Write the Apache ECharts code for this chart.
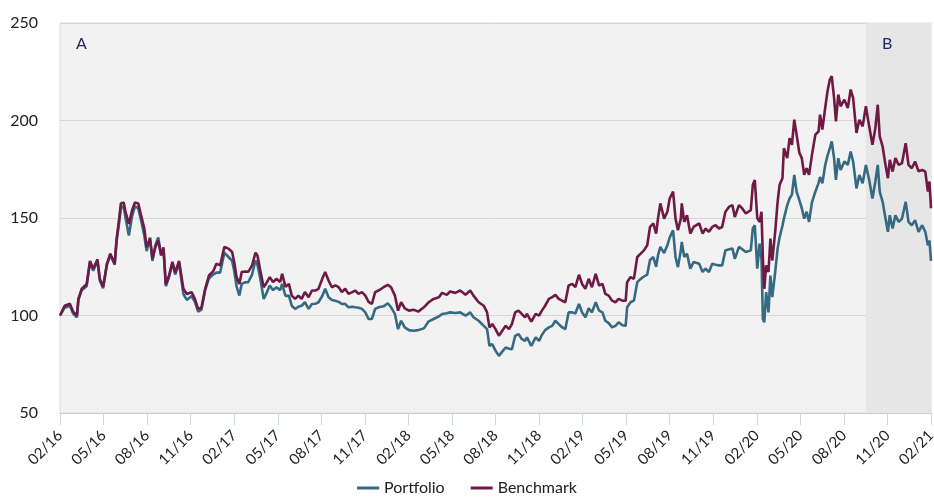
<!DOCTYPE html>
<html><head><meta charset="utf-8">
<script src="https://cdn.jsdelivr.net/npm/echarts@6/dist/echarts.min.js"></script>
<style>html,body{margin:0;padding:0;background:#fff}#c{width:934px;height:501px}</style>
</head><body><div id="c"></div>
<script>
const dates = [
 '2016-02-29','2016-03-10','2016-03-21','2016-03-28','2016-04-05','2016-04-08','2016-04-15','2016-04-25','2016-05-02','2016-05-09','2016-05-18','2016-05-23','2016-05-30','2016-06-07','2016-06-14','2016-06-23','2016-06-27','2016-07-02','2016-07-06','2016-07-12','2016-07-16','2016-07-23','2016-07-30','2016-08-05','2016-08-12','2016-08-18','2016-08-25','2016-08-30','2016-09-06','2016-09-11','2016-09-17','2016-09-23','2016-09-29','2016-10-04','2016-10-09','2016-10-16','2016-10-23','2016-10-29','2016-11-06','2016-11-15','2016-11-22','2016-12-02','2016-12-09','2016-12-16','2016-12-23','2016-12-31',
 '2017-01-08','2017-01-17','2017-01-24','2017-02-01','2017-02-09','2017-02-17','2017-02-24','2017-02-28','2017-03-05','2017-03-11','2017-03-16','2017-03-23','2017-03-30','2017-04-07','2017-04-14','2017-04-18','2017-04-24','2017-05-01','2017-05-08','2017-05-14','2017-05-21','2017-05-28','2017-06-05','2017-06-09','2017-06-16','2017-06-23','2017-06-29','2017-07-06','2017-07-13','2017-07-20','2017-07-27','2017-08-04','2017-08-11','2017-08-18','2017-08-25','2017-09-02','2017-09-08','2017-09-15','2017-09-22','2017-09-29','2017-10-06','2017-10-13','2017-10-20','2017-10-27','2017-11-04','2017-11-10','2017-11-17','2017-11-24','2017-12-01','2017-12-08','2017-12-15','2017-12-22','2017-12-29',
 '2018-01-09','2018-01-18','2018-01-25','2018-02-02','2018-02-08','2018-02-14','2018-02-21','2018-03-01','2018-03-11','2018-03-21','2018-04-02','2018-04-12','2018-04-22','2018-05-03','2018-05-10','2018-05-20','2018-05-27','2018-06-07','2018-06-17','2018-06-28','2018-07-08','2018-07-15','2018-07-26','2018-08-06','2018-08-13','2018-08-18','2018-08-24','2018-08-31','2018-09-07','2018-09-14','2018-09-21','2018-09-28','2018-10-04','2018-10-11','2018-10-18','2018-10-25','2018-11-01','2018-11-05','2018-11-14','2018-11-23','2018-11-30','2018-12-06','2018-12-13','2018-12-21','2018-12-28',
 '2019-01-04','2019-01-11','2019-01-18','2019-01-25','2019-02-01','2019-02-08','2019-02-14','2019-02-21','2019-02-27','2019-03-06','2019-03-13','2019-03-20','2019-03-28','2019-04-04','2019-04-11','2019-04-17','2019-04-24','2019-05-01','2019-05-08','2019-05-15','2019-05-23','2019-05-30','2019-06-02','2019-06-09','2019-06-16','2019-06-23','2019-06-30','2019-07-07','2019-07-14','2019-07-20','2019-07-27','2019-08-02','2019-08-06','2019-08-11','2019-08-19','2019-08-26','2019-08-31','2019-09-07','2019-09-12','2019-09-17','2019-09-23','2019-09-25','2019-09-30','2019-10-06','2019-10-13','2019-10-20','2019-11-01','2019-11-08','2019-11-14','2019-11-21','2019-11-28','2019-12-05','2019-12-12','2019-12-19','2019-12-26',
 '2020-01-03','2020-01-10','2020-01-15','2020-01-24','2020-01-31','2020-02-07','2020-02-17','2020-02-21','2020-02-25','2020-03-01','2020-03-06','2020-03-10','2020-03-13','2020-03-16','2020-03-20','2020-03-25','2020-03-29','2020-04-02','2020-04-08','2020-04-13','2020-04-17','2020-04-23','2020-04-26','2020-05-03','2020-05-08','2020-05-13','2020-05-18','2020-05-23','2020-05-29','2020-06-03','2020-06-08','2020-06-13','2020-06-18','2020-06-24','2020-07-01','2020-07-08','2020-07-11','2020-07-16','2020-07-22','2020-07-27','2020-08-01','2020-08-05','2020-08-10','2020-08-14','2020-08-19','2020-08-24','2020-09-01','2020-09-08','2020-09-14','2020-09-19','2020-09-26','2020-10-02','2020-10-09','2020-10-16','2020-10-23','2020-10-30','2020-11-05','2020-11-10','2020-11-14','2020-11-20','2020-11-26','2020-12-01','2020-12-05','2020-12-11','2020-12-17','2020-12-24','2020-12-31',
 '2021-01-08','2021-01-14','2021-01-21','2021-01-28','2021-02-04','2021-02-11','2021-02-17','2021-02-22','2021-02-25','2021-02-28'
];
const portfolio = [
 100,104,105,101,99,108,113,115,127,123,128,118,114,126,131,126,138,147,155,156,150,141,151,156,155,149,141,133,140,128,136,140,131,134,115,120,127,121,127,111,108,110,107,102,103,113,
 119,121,122,122,132.2,130,128,123,115,110.2,116.2,117,117.1,121,128.2,126,118.8,108.5,112,115.4,113,114.5,113,116.2,110,110.2,105,103.4,104.5,105,106.8,103.4,105.9,106,106.8,110,113.7,109.4,108,107.6,107,105.9,106,104.2,104.5,104.2,104,103.4,101.6,98.2,98.2,103.4,104.2,
 104.7,106.3,104.2,100.8,93,97.3,93.9,92.5,92.2,92.5,93.4,97,98.2,99.5,100.8,101.2,101.6,101.3,101.6,99.9,101.6,99.1,97.3,94.7,93,84.4,85.3,82,79.3,81.5,83.6,83,82.7,89.6,90.5,88,87,88.8,84.4,88.8,87,90,92.5,93.9,94.7,
 97.3,95.6,94,93,101.6,101.6,101,105.9,101.6,99.1,103.7,101.6,106.8,102.5,101.6,97.3,96.1,93.9,94.7,96.5,95,94.7,104.2,106.8,107.6,117.1,118.8,120,121,128.5,130,125,130.8,135.2,132,136,140,143.7,130,124.8,133.4,137.7,130,131.7,124,127.4,126.5,122.3,124,122.3,126.5,126,125.7,125.7,133.4,
 134,134.3,129.1,135.2,134,132.6,133.4,144.6,146.3,124,136.9,129.1,98.2,96.5,112,101.6,120.5,109.4,122.3,134.3,140,146,149.7,156.6,160,162,172.1,163.5,159,155,149.7,153.2,148,158,163.5,168,171,167.8,177,182,185.8,189.3,180.7,169.5,180.7,174.6,179,177.2,184.1,179,165.2,172.1,167.8,177.2,169.5,160,168.7,177.2,163.5,158.3,149.7,142.9,151.4,144.6,151.4,148,149.7,
 158.3,148,146.3,148.9,142.9,146.3,142.9,136,138.5,128
];
const benchmark = [
 100,105,106,102,100,108.5,113.7,116,128,124,128.8,118.8,114.7,126.5,131.7,126.5,139.4,148.9,157.5,158,153,147,154,158,157.5,151.5,144.6,135,139.4,129,135,138.5,130.8,135,116,120.5,127.5,122,128,113.7,111,112,108.5,103.4,104,113.7,
 120.5,122.6,126.5,125.7,135.2,134.3,132.6,127.4,119.7,116.2,122.3,122.6,122.4,125.7,132.2,130.8,123,114.5,117.1,119.7,117.1,118.8,117.2,121.4,114.7,116.2,110.2,108.5,110.2,108.5,112,109.4,112.8,112.8,113.7,118.8,122.3,117.9,114.5,115.4,114.5,112,113.7,111.1,112,112.8,111.1,112,110.2,107,105.9,112,112.8,
 114.5,115.7,114.5,110.2,102.5,106.8,103.7,102.5,103,102,104.2,106.8,108.5,109.4,111.6,110.6,112.3,111.6,112.8,110.6,112.8,110.2,106.8,105,101.6,93.9,95.6,93,89.6,92.2,94.7,93,95.6,101.6,102.5,100.8,99.1,100.8,96.8,100.8,99.9,102.5,105,108.5,109.4,
 110.6,108.5,107.6,106.8,115.4,116.2,114.5,120.9,116.2,113.7,118.8,114.5,121.4,115.4,116.2,111.1,110.2,107.6,106.8,108.5,107.6,107.6,117.1,119.7,118.8,130,131.7,133.4,136,145.4,147.2,142,149.7,157.5,149.7,153.2,160,163.5,149.7,143.7,149.7,157.5,148,151.4,142,145.4,147.2,142,144.6,142.9,145.4,146.3,144.6,145.4,153.2,
 155.8,156.6,150.5,156.6,154.9,152.3,154,166.9,169.5,150,148,153.2,129.1,113.7,125.7,122.3,139.4,128.2,142.9,158.3,166.9,170.4,185.8,180.7,191,187.5,200.4,192.7,183.3,180.7,172.1,175.5,172.1,182.4,192.7,194.4,203,195.3,206.4,215,221,222.7,211.6,199.6,213.3,207.3,210.7,206.4,215.9,211.6,193.6,200.4,197,207.3,197,187.5,196.1,208.1,191.9,186.7,177.2,170.4,179.8,173.8,180.7,177.2,178.1,
 188.4,177.2,175.5,179,174,174.6,173.8,163.5,168.7,155
];
const tickLabels = ['02/16','05/16','08/16','11/16','02/17','05/17','08/17','11/17','02/18','05/18','08/18','11/18','02/19','05/19','08/19','11/19','02/20','05/20','08/20','11/20','02/21'];
const regionA = {label: 'A', start: '2016-02-29', end: '2020-10-16'};
const regionB = {label: 'B', start: '2020-10-16', end: '2021-02-28'};

// month index: 0 = end of Feb 2016 (tick "02/16"), 60 = end of Feb 2021
function monthIndex(s) {
  const p = s.split('-').map(Number);
  const dim = new Date(Date.UTC(p[0], p[1], 0)).getUTCDate();
  return (p[0] - 2016) * 12 + (p[1] - 3) + p[2] / dim;
}

const FONT = 'Lato, "Open Sans", sans-serif';
const regionLabel = (txt) => ({show: true, formatter: txt, position: [16, 13], color: '#1b2a5c', fontSize: 16, fontFamily: FONT});
const chart = echarts.init(document.getElementById('c'), null, {renderer: 'canvas'});
chart.setOption({
  animation: false,
  textStyle: {fontFamily: FONT},
  grid: {left: 60, right: 3, top: 23, bottom: 88, outerBoundsMode: 'none', containLabel: false,
         show: true, backgroundColor: '#f2f2f2', borderColor: '#dcdcdc', borderWidth: 1},
  legend: {
    bottom: 0, left: 'center', icon: 'rect', itemWidth: 22, itemHeight: 3, itemGap: 26,
    textStyle: {fontSize: 16, color: '#222', fontFamily: FONT},
    data: ['Portfolio', 'Benchmark']
  },
  xAxis: {
    type: 'value', min: 0, max: 60, interval: 3,
    axisLine: {show: true, lineStyle: {color: '#cccccc'}},
    axisTick: {show: true, length: 12, lineStyle: {color: '#ccd6eb'}},
    splitLine: {show: false},
    axisLabel: {rotate: 45, fontSize: 15, color: '#222', margin: 20, fontFamily: FONT,
      formatter: v => tickLabels[Math.round(v / 3)] || ''}
  },
  yAxis: {
    type: 'value', min: 50, max: 250, interval: 50,
    axisLine: {show: false}, axisTick: {show: false},
    splitLine: {lineStyle: {color: '#d6d6d6', width: 1}},
    axisLabel: {fontSize: 16, color: '#222', margin: 22, fontFamily: FONT}
  },
  series: [
    {
      name: 'Portfolio', type: 'line', symbol: 'none', showSymbol: false,
      color: '#356a82',
      lineStyle: {width: 2.6, color: '#356a82'},
      data: dates.map((d, i) => [monthIndex(d), portfolio[i]]),
      markArea: {
        silent: true,
        data: [
          [{xAxis: monthIndex(regionA.start), itemStyle: {color: 'rgba(0,0,0,0)'}, label: regionLabel(regionA.label)},
           {xAxis: monthIndex(regionA.end)}],
          [{xAxis: monthIndex(regionB.start), itemStyle: {color: '#e6e6e6'}, label: regionLabel(regionB.label)},
           {xAxis: monthIndex(regionB.end)}]
        ]
      }
    },
    {
      name: 'Benchmark', type: 'line', symbol: 'none', showSymbol: false,
      color: '#6e1a45',
      lineStyle: {width: 2.6, color: '#6e1a45'},
      data: dates.map((d, i) => [monthIndex(d), benchmark[i]])
    }
  ]
});
</script></body></html>
